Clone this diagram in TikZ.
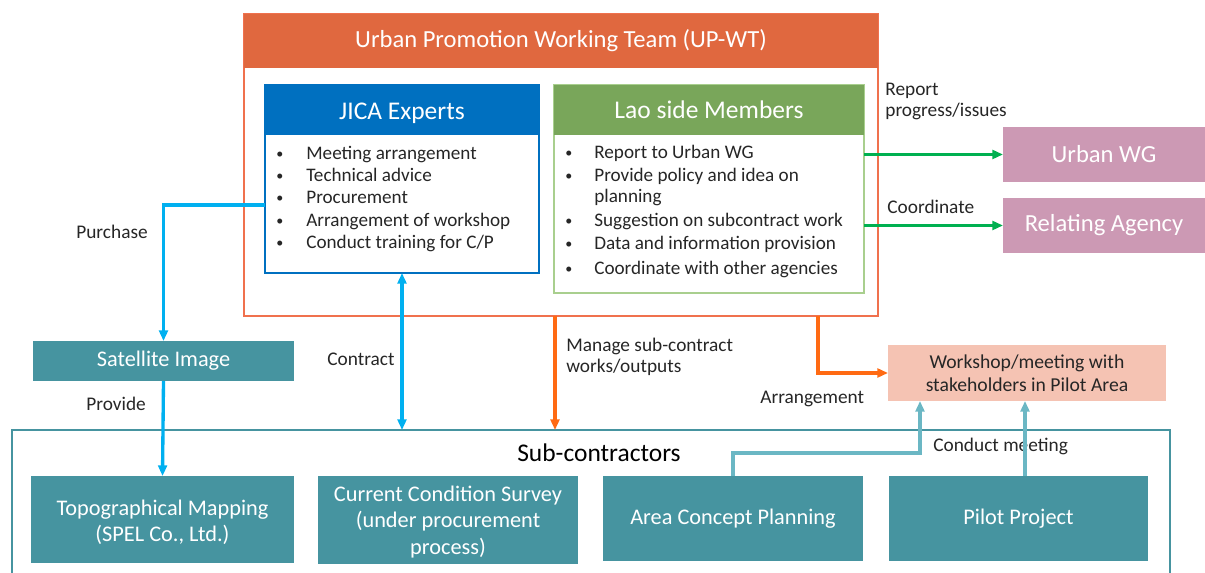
\documentclass[tikz,border=0pt]{standalone}
\usepackage{fontspec}
\setmainfont{Carlito}
\usetikzlibrary{arrows.meta,fit}
\definecolor{hdrorange}{HTML}{E0683F}
\definecolor{bdrorange}{HTML}{F0714E}
\definecolor{jicablue}{HTML}{0070C0}
\definecolor{laogreen}{HTML}{79A65A}
\definecolor{laobdr}{HTML}{A9CF8E}
\definecolor{mauve}{HTML}{CC99B4}
\definecolor{tealbox}{HTML}{4694A0}
\definecolor{skyblue}{HTML}{00B0F0}
\definecolor{arrgreen}{HTML}{00B050}
\definecolor{arrorange}{HTML}{FF6A13}
\definecolor{lteal}{HTML}{6BB7C4}
\definecolor{salmon}{HTML}{F5C3B3}
\definecolor{txtgray}{HTML}{262626}
\begin{document}
\begin{tikzpicture}[x=0.02cm,y=-0.02cm,
  fitbox/.style={inner sep=0pt, outer sep=0pt},
  boxfont/.style={font=\fontsize{12.7}{15}\selectfont},
  tealnode/.style={fitbox, fill=tealbox},
  wtext/.style={text=white, align=center, boxfont},
  mauvenode/.style={fitbox, fill=mauve},
  hdrtext/.style={text=white, font=\fontsize{14.5}{17}\selectfont},
  bul/.style={anchor=base west, inner sep=0pt, text=txtgray, font=\fontsize{10.9}{12.5}\selectfont},
  dotbul/.style={anchor=base west, inner sep=0pt, text=txtgray, font=\fontsize{8}{10}\selectfont},
  lbl/.style={anchor=base west, inner sep=0pt, text=txtgray, align=left, font=\fontsize{11}{12.5}\selectfont},
  tip/.style={-{Triangle[length=6pt,width=5pt]}},
  bluearr/.style={tip, draw=skyblue, line width=1.9pt},
  greenarr/.style={tip, draw=arrgreen, line width=1.9pt},
  orangearr/.style={tip, draw=arrorange, line width=1.9pt},
  tealarr/.style={tip, draw=lteal, line width=1.9pt}
]
\useasboundingbox (0,0) rectangle (1205,573);

% Sub-contractors container
\node[fitbox, draw=tealbox, line width=0.6pt, fit={(12,430)(1170,590)}] (sub) {};
\node[anchor=base, inner sep=0pt, font=\fontsize{14.5}{17}\selectfont] (subt) at (599,462) {Sub-contractors};

% UP-WT
\node[fitbox, draw=bdrorange, line width=0.8pt, fit={(244,14)(878,316)}] (upwt) {};
\node[fitbox, fill=hdrorange, fit={(244,14)(878,68)}] (upwth) {};
\node[hdrtext, font=\fontsize{14}{16}\selectfont] at (upwth.center) {Urban Promotion Working Team (UP-WT)};

% JICA
\node[fitbox, draw=jicablue, line width=0.8pt, fill=white, fit={(265,85)(539,273)}] (jb) {};
\node[fitbox, fill=jicablue, fit={(265,85)(539,135)}] (jh) {};
\node[hdrtext, yshift=-2pt] at (jh.center) {JICA Experts};
\foreach \t/\y [count=\i] in {{Meeting arrangement}/160,{Technical advice}/182,{Procurement}/204,{Arrangement of workshop}/227,{Conduct training for C/P}/249}{
  \node[dotbul] (jbul\i) at (276,{\y-1}) {•};
  \node[bul] (jtxt\i) at (306,\y) {\t};
}

% Lao
\node[fitbox, draw=laobdr, line width=0.8pt, fill=white, fit={(554,85)(864,293)}] (lb) {};
\node[fitbox, fill=laogreen, fit={(554,85)(864,135)}] (lh) {};
\node[hdrtext] at (lh.center) {Lao side Members};
\foreach \t/\y [count=\i] in {{Report to Urban WG}/159,{Provide policy and idea on}/182,{Suggestion on subcontract work}/227,{Data and information provision}/250,{Coordinate with other agencies}/275}{
  \node[dotbul] (lbul\i) at (565,{\y-1}) {•};
  \node[bul] (ltxt\i) at (594,\y) {\t};
}
\node[bul] (ltxt2b) at (594,203) {planning};

% Right boxes
\node[mauvenode, fit={(1003,127)(1205,182)}] (uwg) {};
\node[text=white, font=\fontsize{14}{16}\selectfont] at (uwg.center) {Urban WG};
\node[mauvenode, fit={(1003,198)(1205,253)}] (rag) {};
\node[text=white, font=\fontsize{14}{16}\selectfont] at (rag.center) {Relating Agency};
\node[lbl] (rpt) at (885,117) {Report\\progress/issues};
\node[lbl] (coord) at (887,214) {Coordinate};

% Satellite
\node[tealnode, fit={(33,341)(294,381)}] (sat) {};
\node[wtext] at (sat.center) {Satellite Image};
\node[lbl] (purch) at (76,239) {Purchase};
\node[lbl] (prov) at (86,411) {Provide};
\node[lbl] (contr) at (327,366) {Contract};
\node[lbl] (manage) at (566,373) {Manage sub-contract\\works/outputs};
\node[lbl] (arrl) at (760,404) {Arrangement};
\node[lbl] (cmeet) at (933,452) {Conduct meeting};

% Workshop
\node[fitbox, fill=salmon, fit={(888,345)(1166,401)}] (ws) {};
\node[align=center, text=txtgray, font=\fontsize{11.2}{13}\selectfont] at (ws.center) {Workshop/meeting with\\stakeholders in Pilot Area};

% Bottom boxes
\node[tealnode, fit={(31,476)(294,563)}] (topo) {};
\node[wtext, yshift=-1.5pt] at (topo.center) {Topographical Mapping\\(SPEL Co., Ltd.)};
\node[tealnode, fit={(318,476)(578,564)}] (ccs) {};
\node[wtext, yshift=-1pt] at (ccs.center) {Current Condition Survey\\(under procurement\\process)};
\node[tealnode, fit={(603,476)(863,561)}] (acp) {};
\node[wtext] at (acp.center) {Area Concept Planning};
\node[tealnode, fit={(889,476)(1148,561)}] (pp) {};
\node[wtext] at (pp.center) {Pilot Project};

% helper coordinates
\coordinate (cpur) at (0,205);
\coordinate (cman) at (555,0);
\coordinate (carr) at (818,0);
\coordinate (cacp) at (733,453);
\coordinate (cwsa) at (920,0);
\coordinate (cpp) at (1025,0);

% connectors
\draw[bluearr] (jb.west |- cpur) -| (sat.north);
\draw[bluearr] (sat.south) -- (topo.north);
\draw[bluearr, {Triangle[length=6pt,width=5pt]}-{Triangle[length=6pt,width=5pt]}] (jb.south) -- (jb.south |- sub.north);
\draw[orangearr] (upwt.south -| cman) -- (sub.north -| cman);
\draw[orangearr] (upwt.south -| carr) |- (ws.west);
\draw[greenarr] (lb.east |- uwg.west) -- (uwg.west);
\draw[greenarr] (lb.east |- rag.west) -- (rag.west);
\draw[tealarr] (acp.north -| cacp) -- (cacp) -| (ws.south -| cwsa);
\draw[tealarr] (pp.north -| cpp) -- (ws.south -| cpp);
\end{tikzpicture}
\end{document}
